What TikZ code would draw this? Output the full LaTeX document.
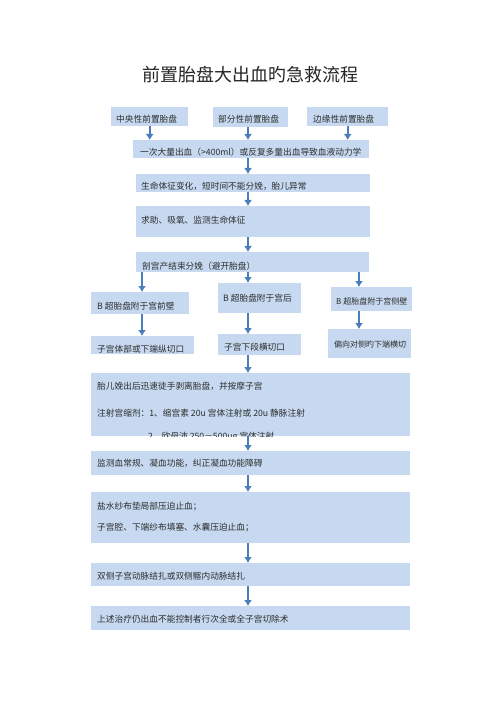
\documentclass[tikz,border=0pt]{standalone}
\usepackage{fontspec}
\setmainfont{Noto Sans CJK SC}
\usetikzlibrary{arrows.meta}

\definecolor{boxblue}{RGB}{198,217,240}
\definecolor{flowblue}{RGB}{74,126,187}
\definecolor{inkgray}{RGB}{45,45,45}

\begin{document}
\begin{tikzpicture}[
    x=1pt, y=-1pt,
    >=Latex,
    step box/.style={fill=boxblue,draw=none,anchor=north west,inner sep=0pt},
    box text/.style={anchor=west,inner sep=0pt,text=inkgray,font=\fontsize{8.7}{10}\selectfont},
    small text/.style={box text,font=\fontsize{8}{10}\selectfont},
    flow/.style={draw=flowblue,line width=1.8pt,-{Latex[length=6pt,width=8pt]}}
  ]
    \fill[white] (0,0) rectangle (500,708);
    \useasboundingbox (0,0) rectangle (500,708);

    % Title
    \node[font=\fontsize{18}{20}\selectfont,text=black!85] (title) at (250,75) {前置胎盘大出血旳急救流程};

    % Three types of placenta praevia
    \node[step box,minimum width=77pt,minimum height=19pt] (Q1) at (111,107) {};
    \node[step box,minimum width=75pt,minimum height=20pt] (Q2) at (213,107) {};
    \node[step box,minimum width=81pt,minimum height=19pt] (Q3) at (307,107) {};
    \node[box text] (q1) at (116,119.5) {中央性前置胎盘};
    \node[box text] (q2) at (218,119.5) {部分性前置胎盘};
    \node[box text] (q3) at (313,119) {边缘性前置胎盘};

    % Main column
    \node[step box,minimum width=236pt,minimum height=18pt] (S1) at (133,140) {};
    \node[step box,minimum width=234pt,minimum height=18pt] (S2) at (136,174) {};
    \node[step box,minimum width=234pt,minimum height=31pt] (S3) at (136,206) {};
    \node[step box,minimum width=233pt,minimum height=20pt] (S4) at (136,252) {};
    \node[box text] (s1) at (140,152.5) {一次大量出血（>400ml）或反复多量出血导致血液动力学};
    \node[box text] (s2) at (141,186.5) {生命体征变化，短时间不能分娩，胎儿异常};
    \node[box text] (s3) at (141,220) {求助、吸氧、监测生命体征};
    \node[box text] (s4) at (142,266) {剖宫产结束分娩（避开胎盘）};

    % Three incision branches
    \node[step box,minimum width=98pt,minimum height=22pt] (L1) at (91,292) {};
    \node[step box,minimum width=103pt,minimum height=18pt] (L2) at (91,336) {};
    \node[step box,minimum width=83pt,minimum height=30pt] (M1) at (218,283) {};
    \node[step box,minimum width=83pt,minimum height=21pt] (M2) at (218,334) {};
    \node[step box,minimum width=81pt,minimum height=24pt] (R1) at (331,287) {};
    \node[step box,minimum width=83pt,minimum height=29pt] (R2) at (328,329) {};
    \node[box text] (l1) at (97,306) {B 超胎盘附于宫前壁};
    \node[box text] (l2) at (97,349) {子宫体部或下端纵切口};
    \node[box text] (m1) at (223,298.5) {B 超胎盘附于宫后};
    \node[box text] (m2) at (224,347) {子宫下段横切口};
    \node[small text] (r1) at (336,301.5) {B 超胎盘附于宫侧壁};
    \node[small text] (r2) at (334,344.5) {偏向对侧旳下端横切};

    % Wide treatment steps
    \node[step box,minimum width=319pt,minimum height=63pt] (T1) at (91,373) {};
    \node[step box,minimum width=319pt,minimum height=24pt] (T2) at (91,451) {};
    \node[step box,minimum width=319pt,minimum height=51pt] (T3) at (91,492) {};
    \node[step box,minimum width=319pt,minimum height=23pt] (T4) at (91,563) {};
    \node[step box,minimum width=319pt,minimum height=24pt] (T5) at (91,606) {};
    \node[box text] (t1a) at (97,386) {胎儿娩出后迅速徒手剥离胎盘，并按摩子宫};
    \node[box text] (t1b) at (97,413) {注射宫缩剂：1、缩宫素 20u 宫体注射或 20u 静脉注射};
    \begin{scope}
      \clip (T1.north west) rectangle (T1.south east);
      \node[box text] (t1c) at (148,437) {2、欣母沛 250－500ug 宫体注射};
    \end{scope}
    \node[box text] (t2) at (97,463.5) {监测血常规、凝血功能，纠正凝血功能障碍};
    \node[box text] (t3a) at (97,507) {盐水纱布垫局部压迫止血；};
    \node[box text] (t3b) at (97,528) {子宫腔、下端纱布填塞、水囊压迫止血；};
    \node[box text] (t4) at (97,576.5) {双侧子宫动脉结扎或双侧髂内动脉结扎};
    \node[box text] (t5) at (97,619.5) {上述治疗仍出血不能控制者行次全或全子宫切除术};

    % Arrow columns
    \coordinate (colL) at (142,0);
    \coordinate (colM) at (248,0);
    \coordinate (colR) at (359,0);

    \draw[flow] (Q1.south) -- (Q1.south |- S1.north);
    \draw[flow] (Q2.south -| colM) -- (S1.north -| colM);
    \draw[flow] (Q3.south) -- (Q3.south |- S1.north);
    \draw[flow] (S1.south -| colM) -- (S2.north -| colM);
    \draw[flow] (S2.south -| colM) -- (S3.north -| colM);
    \draw[flow] (S3.south -| colM) -- (S4.north -| colM);
    \draw[flow] (S4.south -| colL) -- (L1.north -| colL);
    \draw[flow] (S4.south -| colM) -- (M1.north -| colM);
    \draw[flow] (S4.south -| colR) -- (R1.north -| colR);
    \draw[flow] (L1.south -| colL) -- (L2.north -| colL);
    \draw[flow] (M1.south -| colM) -- (M2.north -| colM);
    \draw[flow] (R1.south -| colR) -- (R2.north -| colR);
    \draw[flow] (M2.south -| colM) -- (T1.north -| colM);
    \draw[flow] (T1.south -| colM) -- (T2.north -| colM);
    \draw[flow] (T2.south -| colM) -- (T3.north -| colM);
    \draw[flow] (T3.south -| colM) -- (T4.north -| colM);
    \draw[flow] (T4.south -| colM) -- (T5.north -| colM);

  \end{tikzpicture}
\end{document}
